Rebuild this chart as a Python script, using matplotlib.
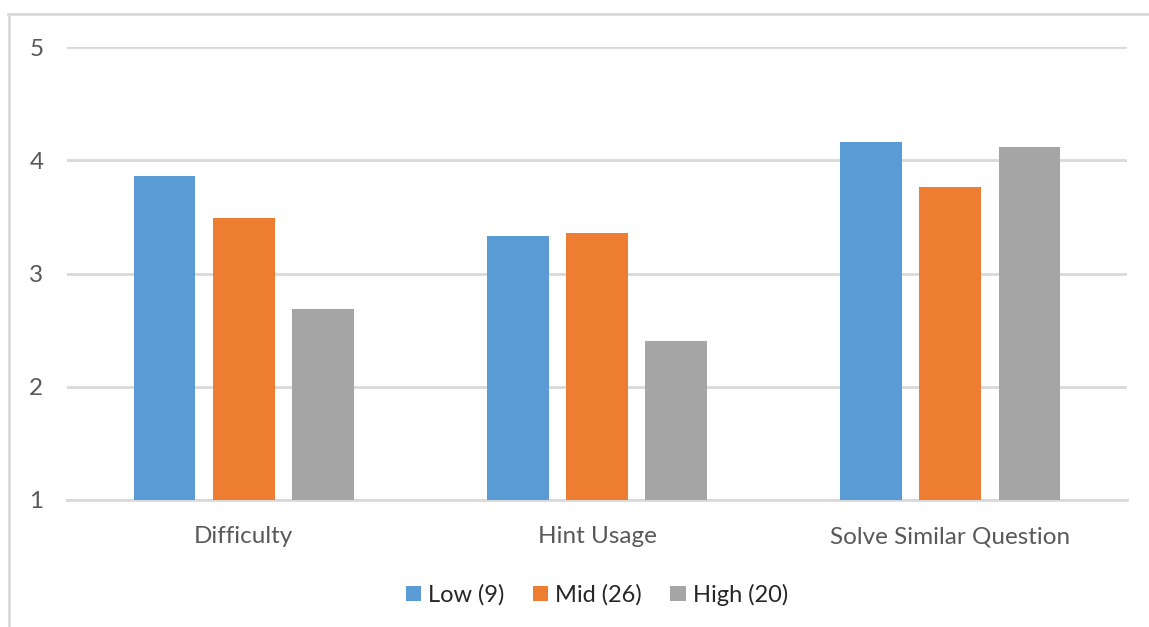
import numpy as np
import matplotlib.pyplot as plt
from matplotlib.lines import Line2D

plt.rcParams['font.family'] = ['Lato', 'DejaVu Sans']

categories = ["Difficulty", "Hint Usage", "Solve Similar Question"]
series_names = ["Low (9)", "Mid (26)", "High (20)"]
low_vals = [3.86, 3.33, 4.16]
mid_vals = [3.49, 3.36, 3.76]
high_vals = [2.69, 2.40, 4.12]
colors = ["#5B9BD5", "#ED7D31", "#A5A5A5"]
yticks = [1, 2, 3, 4, 5]

fig = plt.figure(figsize=(11.49, 6.27), dpi=100)
ax = fig.add_axes([67/1149, 1 - 500/627, (1127 - 67)/1149, (500 - 47)/627])

x = np.arange(len(categories))
width = 0.175
step = 0.224
for i, (vals, name) in enumerate(zip([low_vals, mid_vals, high_vals], series_names)):
    ax.bar(x + (i - 1) * step, np.array(vals) - 1, width, bottom=1,
           color=colors[i], label=name, zorder=3)

ax.set_xlim(-0.5, len(categories) - 0.5)
ax.set_ylim(1, 5)
ax.set_yticks(yticks)
ax.set_yticklabels([str(t) for t in yticks])
ax.set_xticks(x)
ax.set_xticklabels(categories)
ax.yaxis.grid(True, color="#d9d9d9", linewidth=2, zorder=0)
ax.set_axisbelow(True)
for s in ["top", "right", "left"]:
    ax.spines[s].set_visible(False)
ax.spines["bottom"].set_color("#d9d9d9")
ax.spines["bottom"].set_linewidth(2)
ax.tick_params(axis="both", length=0, labelsize=17.5, labelcolor="#595959")
ax.tick_params(axis="y", pad=17)
ax.tick_params(axis="x", pad=19)

ax.legend(loc="upper center", bbox_to_anchor=(0.5, -0.138), ncol=3, frameon=False,
          fontsize=17, handlelength=0.65, handleheight=0.65, handletextpad=0.3,
          columnspacing=1.2, labelcolor="#262626")

# outer chart border (top and left edges visible)
fig.add_artist(Line2D([8/1149, 1], [1 - 14/627, 1 - 14/627], color="#d9d9d9", lw=2))
fig.add_artist(Line2D([9/1149, 9/1149], [0, 1 - 14/627], color="#d9d9d9", lw=2))

fig.savefig("out.png", dpi=100, facecolor="white")
